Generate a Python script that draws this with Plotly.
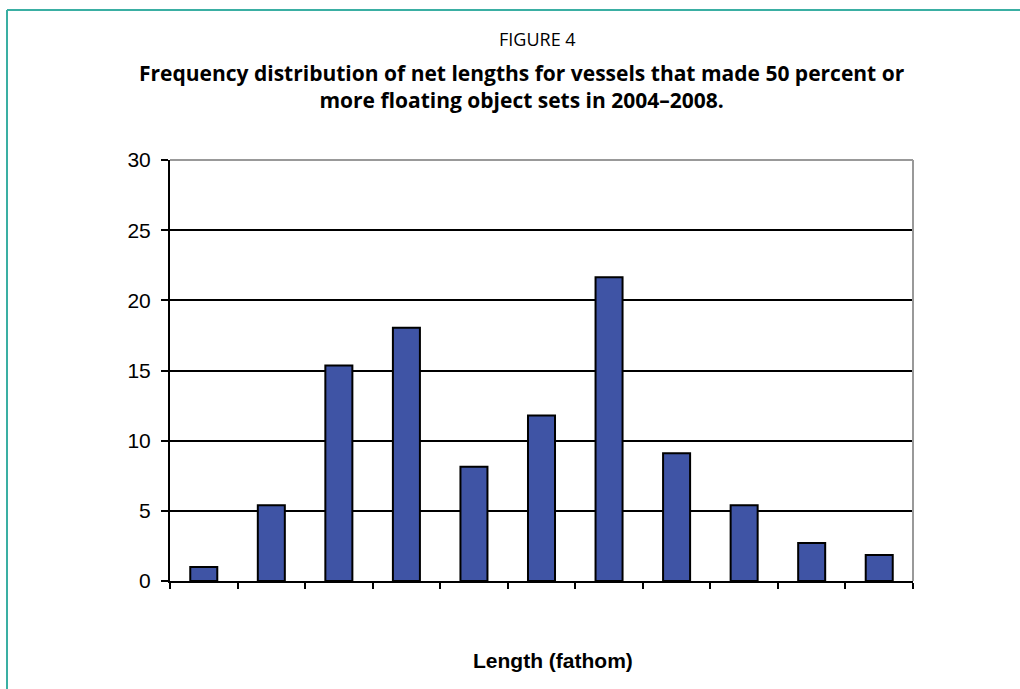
import plotly.graph_objects as go

categories = [f"c{i}" for i in range(1, 12)]
values = [1.0, 5.4, 15.35, 18.05, 8.15, 11.8, 21.65, 9.1, 5.4, 2.7, 1.85]
y_ticks = [0, 5, 10, 15, 20, 25, 30]

W, H = 1020, 689
L, R, T, B = 170, 913, 160, 581

def px(x):
    return (x - L) / (R - L)

def py(y):
    return (B - y) / (B - T)

fig = go.Figure(go.Bar(
    x=categories, y=values,
    marker=dict(color="#3f54a5", line=dict(color="black", width=2)),
    width=0.4,
))

teal = "#3aafa3"
fig.update_layout(
    width=W, height=H,
    margin=dict(l=L, r=W - R, t=T, b=H - B, pad=0),
    paper_bgcolor="white", plot_bgcolor="white",
    showlegend=False,
    font=dict(family="Liberation Sans, Arial", color="black"),
    xaxis=dict(
        showticklabels=False, showgrid=False, zeroline=False,
        ticks="outside", ticklen=6, tickwidth=2, tickcolor="black",
        tickmode="array", tickvals=[i - 0.5 for i in range(0, 12)],
        range=[-0.5, 10.5],
        showline=True, linecolor="black", linewidth=2,
        mirror=False,
    ),
    yaxis=dict(
        range=[0, 30], tickvals=y_ticks,
        ticks="outside", ticklen=7, tickwidth=2, tickcolor="black",
        tickfont=dict(size=21, family="Liberation Sans, Arial"),
        ticklabelstandoff=6,
        showgrid=True, gridcolor="black", gridwidth=2,
        zeroline=False,
        showline=True, linecolor="black", linewidth=2,
    ),
    shapes=[
        dict(type="line", xref="paper", yref="paper", x0=0, x1=1, y0=1, y1=1,
             line=dict(color="#999999", width=2)),
        dict(type="line", xref="paper", yref="paper", x0=1, x1=1, y0=0, y1=1,
             line=dict(color="#999999", width=2)),
        dict(type="line", xref="paper", yref="paper", x0=px(7), x1=px(1025), y0=py(10), y1=py(10),
             line=dict(color=teal, width=2)),
        dict(type="line", xref="paper", yref="paper", x0=px(7), x1=px(7), y0=py(10), y1=py(695),
             line=dict(color=teal, width=2)),
    ],
    annotations=[
        dict(text="FIGURE 4", xref="paper", yref="paper", x=px(537), y=py(39),
             yanchor="middle", xanchor="center",
             showarrow=False, font=dict(size=18, family="Open Sans")),
        dict(text="<b>Frequency distribution of net lengths for vessels that made 50 percent or<br>more floating object sets in 2004–2008.</b>",
             xref="paper", yref="paper", x=px(522), y=py(86), yanchor="middle", xanchor="center",
             showarrow=False, font=dict(size=21, family="Open Sans"), align="center"),
        dict(text="<b>Length (fathom)</b>", xref="paper", yref="paper", x=px(553), y=py(660),
             yanchor="middle", xanchor="center",
             showarrow=False, font=dict(size=21, family="Liberation Sans, Arial")),
    ],
)

fig.write_html("out.html")
